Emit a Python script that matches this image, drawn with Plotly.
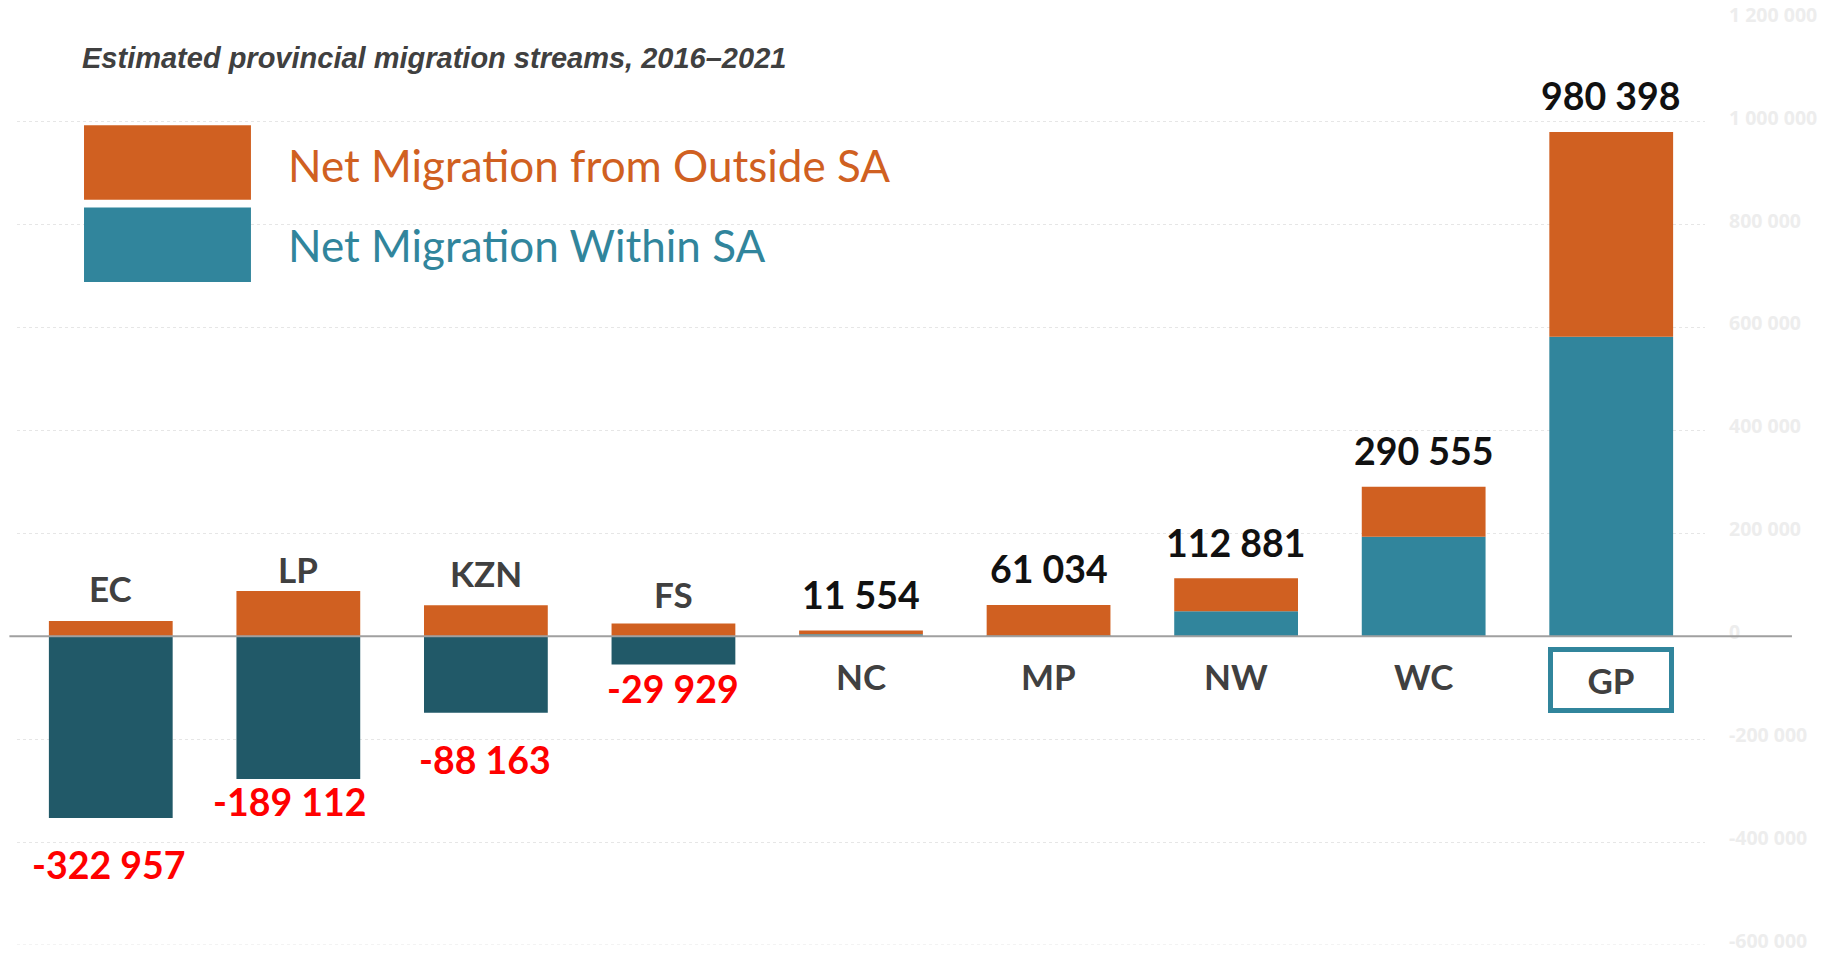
import plotly.graph_objects as go

# ---------------- data ----------------
provinces = ["EC", "LP", "KZN", "FS", "NC", "MP", "NW", "WC", "GP"]
net_total = [-322957, -189112, -88163, -29929, 11554, 61034, 112881, 290555, 980398]
net_outside = [30000, 88000, 60500, 25000, 7500, 60000, 64000, 97000, 398000]
net_within = [-352957, -277112, -148663, -54929, 4054, 1034, 48881, 193555, 582398]

tick_vals = [-600000, -400000, -200000, 0, 200000, 400000, 600000, 800000, 1000000, 1200000]
tick_text = ["-600 000", "-400 000", "-200 000", "0", "200 000", "400 000",
             "600 000", "800 000", "1 000 000", "1 200 000"]

title_text = "Estimated provincial migration streams, 2016–2021"
legend_outside = "Net Migration from Outside SA"
legend_within = "Net Migration Within SA"

# ---------------- styles ----------------
ORANGE = "#D06021"
TEAL = "#31859C"
DARK_TEAL = "#215968"
LABEL_GREY = "#404040"
FONT = "Lato"

# per-label fine offsets (pixels) for the manually placed labels
neg_value_shift = {"EC": -47, "LP": -23, "KZN": -47, "FS": -24}
neg_value_xshift = {"EC": -2, "LP": -8, "KZN": -1, "FS": 0}
neg_cat_shift = {"EC": 33, "LP": 22, "KZN": 32, "FS": 29}


def fmt(v):
    return f"{v:,}".replace(",", " ")


within_colors = [DARK_TEAL if v < 0 else TEAL for v in net_within]

fig = go.Figure()
fig.add_trace(go.Bar(x=provinces, y=net_within, name=legend_within,
                     marker=dict(color=within_colors, line=dict(width=0)),
                     width=0.66, hoverinfo="x+y"))
fig.add_trace(go.Bar(x=provinces, y=net_outside, name=legend_outside,
                     marker=dict(color=ORANGE, line=dict(width=0)),
                     width=0.66, hoverinfo="x+y"))

annotations = []
for p, tot, out, wit in zip(provinces, net_total, net_outside, net_within):
    if tot < 0:
        annotations.append(dict(x=p, y=out, xref="x", yref="y", text=f"<b>{p}</b>",
                                showarrow=False, yanchor="middle",
                                yshift=neg_cat_shift[p],
                                font=dict(family=FONT, size=35, color=LABEL_GREY)))
        annotations.append(dict(x=p, y=wit, xref="x", yref="y", text=f"<b>{fmt(tot)}</b>",
                                showarrow=False, yanchor="middle",
                                yshift=neg_value_shift[p], xshift=neg_value_xshift[p],
                                font=dict(family=FONT, size=37.5, color="#FF0000")))
    else:
        annotations.append(dict(x=p, y=tot, xref="x", yref="y", text=f"<b>{fmt(tot)}</b>",
                                showarrow=False, yanchor="middle", yshift=36,
                                font=dict(family=FONT, size=37.5, color="#111111")))
        if p == "GP":
            annotations.append(dict(x=p, y=0, xref="x", yref="y", text=f"<b>{p}</b>",
                                    showarrow=False, yanchor="middle", yshift=-44,
                                    width=116, height=56, borderwidth=5, borderpad=0,
                                    bordercolor=TEAL, bgcolor="white",
                                    font=dict(family=FONT, size=35, color=LABEL_GREY)))
        else:
            annotations.append(dict(x=p, y=0, xref="x", yref="y", text=f"<b>{p}</b>",
                                    showarrow=False, yanchor="middle", yshift=-40,
                                    font=dict(family=FONT, size=35, color=LABEL_GREY)))

# title
annotations.append(dict(x=0.0373, y=0.958, xref="paper", yref="paper",
                        text=f"<b><i>{title_text}</i></b>", showarrow=False,
                        xanchor="left", yanchor="middle",
                        font=dict(family="Liberation Sans", size=29, color=LABEL_GREY)))
# legend text
annotations.append(dict(x=0.1594, y=0.8424, xref="paper", yref="paper",
                        text=legend_outside, showarrow=False,
                        xanchor="left", yanchor="middle",
                        font=dict(family=FONT, size=44, color=ORANGE)))
annotations.append(dict(x=0.1594, y=0.7556, xref="paper", yref="paper",
                        text=legend_within, showarrow=False,
                        xanchor="left", yanchor="middle",
                        font=dict(family=FONT, size=44, color=TEAL)))

shapes = [
    dict(type="rect", xref="paper", yref="paper", x0=0.0397, x1=0.1386,
         y0=0.8049, y1=0.8853, fillcolor=ORANGE, line=dict(width=0)),
    dict(type="rect", xref="paper", yref="paper", x0=0.0397, x1=0.1386,
         y0=0.7160, y1=0.7964, fillcolor=TEAL, line=dict(width=0)),
    dict(type="line", xref="paper", yref="y", x0=-0.0045, x1=1.0515, y0=0, y1=0,
         line=dict(color="#A0A0A0", width=2), layer="above"),
    dict(type="line", xref="paper", yref="y", x0=0, x1=1, y0=-600000, y1=-600000,
         line=dict(color="#E6E6E6", width=1, dash="dot"), layer="below"),
]

fig.update_layout(
    barmode="relative",
    width=1837, height=957,
    margin=dict(l=17, r=132, t=19, b=12, autoexpand=False),
    paper_bgcolor="white", plot_bgcolor="white",
    showlegend=False,
    annotations=annotations,
    shapes=shapes,
    xaxis=dict(range=[-0.5, 8.5], showticklabels=False, showgrid=False,
               zeroline=False, showline=False, ticks="", automargin=False),
    yaxis=dict(range=[-600000, 1200000], side="right", tickvals=tick_vals,
               ticktext=tick_text, showgrid=True, gridcolor="#E6E6E6",
               griddash="dot", gridwidth=1, zeroline=False, showline=False,
               ticks="", ticklabelstandoff=23, ticklabelshift=-4, automargin=False,
               ticklabeloverflow="allow",
               tickfont=dict(family="Open Sans", size=19.5, color="#EDEDED",
                             weight="bold")),
)

fig.write_html("out.html", config={"displayModeBar": False},
               post_script="document.body.style.margin='0';document.body.style.overflow='hidden';")
